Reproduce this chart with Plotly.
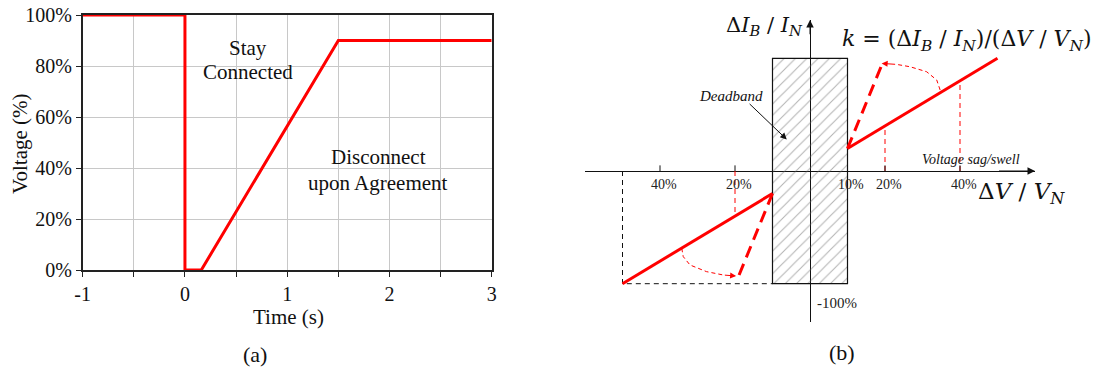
import plotly.graph_objects as go

# ---- (a) voltage ride-through profile ----
time_s = [-1, 0, 0, 0.16, 1.5, 3]
voltage_pct = [100, 100, 0, 0, 90, 90]
x_ticks = [-1, -0.5, 0, 0.5, 1, 1.5, 2, 2.5, 3]
x_ticktext = ["-1", "", "0", "", "1", "", "2", "", "3"]
y_ticks = [0, 20, 40, 60, 80, 100]
y_ticktext = ["0%", "20%", "40%", "60%", "80%", "100%"]

# ---- (b) reactive current support characteristic ----
deadband = [-10, 10]           # % of nominal voltage
band_height = [-100, 100]      # % of nominal current
swell_dv = [10, 50]
swell_di = [20, 100]
swell_steep_dv = [10, 19.5]
swell_steep_di = [20, 97]
sag_dv = [-50, -10]
sag_di = [-100, -20]
sag_steep_dv = [-10, -19.5]
sag_steep_di = [-20, -97]
swell_curve_dv = [34.7, 33.8, 31.1, 26.7, 23.1, 19.1]
swell_curve_di = [71.9, 80.7, 88.1, 92.5, 94.6, 95.5]
sag_curve_dv = [-34.2, -33.8, -32.0, -27.6, -23.1, -19.7]
sag_curve_di = [-68.6, -76.0, -83.4, -89.3, -92.3, -93.2]
guide_dv = [-20, 20, 40]
guide_di = [-40, 40, 80]
tick_dv = [-40, -20, 20, 40]
tick_label_dv = [-40, -20, 10, 20, 40]
tick_label_text = ["40%", "20%", "10%", "20%", "40%"]

RED = "#ff0000"
SERIF = "Liberation Serif"
MATH = "DejaVu Serif"

fig = go.Figure()

fig.add_trace(go.Scatter(x=time_s, y=voltage_pct, mode="lines",
                         line=dict(color=RED, width=3), xaxis="x", yaxis="y",
                         hoverinfo="skip", showlegend=False))

# hatched deadband block
fig.add_trace(go.Bar(x=[0], y=[band_height[1] - band_height[0]], base=[band_height[0]],
                     width=[deadband[1] - deadband[0]], xaxis="x2", yaxis="y2",
                     marker=dict(color="rgba(0,0,0,0)",
                                 line=dict(color="#111", width=1.2),
                                 pattern=dict(shape="/", fgcolor="#666",
                                              bgcolor="rgba(0,0,0,0)", size=8,
                                              solidity=0.13)),
                     hoverinfo="skip", showlegend=False))

def line2(xs, ys, color, width, dash="solid"):
    fig.add_trace(go.Scatter(x=xs, y=ys, mode="lines", xaxis="x2", yaxis="y2",
                             line=dict(color=color, width=width, dash=dash),
                             hoverinfo="skip", showlegend=False))

# black dashed projection of the sag end point
line2([sag_dv[0], sag_dv[0], deadband[0]], [0, sag_di[0], sag_di[0]], "#111", 1, "5px,4px")
# thin red guides from the axis to the characteristic
for gx, gy in zip(guide_dv, guide_di):
    line2([gx, gx], [0, gy], RED, 1, "5px,4px")
# small axis ticks
for tx in tick_dv:
    line2([tx, tx], [0, 5], "#111", 1)
# characteristics
line2(swell_dv, swell_di, RED, 3)
line2(sag_dv, sag_di, RED, 3)
line2(swell_steep_dv, swell_steep_di, RED, 3, "12px,7px")
line2(sag_steep_dv, sag_steep_di, RED, 3, "12px,7px")
line2(swell_curve_dv[:-1], swell_curve_di[:-1], RED, 1, "4px,3px")
line2(sag_curve_dv[:-1], sag_curve_di[:-1], RED, 1, "4px,3px")

annotations = []

def arrow2(x, y, ax, ay, color, width=1, size=1.0, head=2):
    annotations.append(dict(x=x, y=y, ax=ax, ay=ay, xref="x2", yref="y2",
                            axref="x2", ayref="y2", text="", showarrow=True,
                            arrowhead=head, arrowsize=size, arrowwidth=width,
                            arrowcolor=color))

arrow2(swell_curve_dv[-1], swell_curve_di[-1], swell_curve_dv[-2], swell_curve_di[-2], RED, 1, 1.2)
arrow2(sag_curve_dv[-1], sag_curve_di[-1], sag_curve_dv[-2], sag_curve_di[-2], RED, 1, 1.2)
# axis arrowheads
arrow2(60, 0, 50, 0, "#111", 1, 1.5)
arrow2(0, 134, 0, 120, "#111", 1, 1.5)
# Deadband pointer
arrow2(-6.2, 28, -16.5, 60.8, "#111", 1, 1.3)

def ptext(px, py, text, size, family=SERIF, angle=0, xanchor="center", color="#111"):
    annotations.append(dict(x=px / 1100, y=1 - py / 372, xref="paper", yref="paper",
                            text=text, showarrow=False, textangle=angle,
                            xanchor=xanchor, yanchor="middle",
                            font=dict(family=family, size=size, color=color)))

# (a) labels
ptext(248, 48, "Stay", 21)
ptext(248, 72, "Connected", 21)
ptext(378, 157, "Disconnect", 21)
ptext(378, 183, "upon Agreement", 21)
ptext(288, 317, "Time (s)", 21)
ptext(20, 144, "Voltage (%)", 21, angle=-90)
ptext(255, 354, "(a)", 22)
ptext(842, 352, "(b)", 22)

# (b) labels
ptext(731, 96, "<i>Deadband</i>", 15)
ptext(971, 159, "<i>Voltage sag/swell</i>", 14)
ptext(764, 26, "Δ<i>I</i><sub><i>B</i></sub> / <i>I</i><sub><i>N</i></sub>", 21, MATH)
ptext(967, 40, "<i>k</i> = (Δ<i>I</i><sub><i>B</i></sub> / <i>I</i><sub><i>N</i></sub>)/(Δ<i>V</i> / <i>V</i><sub><i>N</i></sub>)", 22, MATH)
ptext(1021, 193, "Δ<i>V</i> / <i>V</i><sub><i>N</i></sub>", 23, MATH)

for vx, vt in zip(tick_label_dv, tick_label_text):
    annotations.append(dict(x=vx, y=0, xref="x2", yref="y2", text=vt, showarrow=False,
                            xshift=3.5, yshift=-14,
                            font=dict(family=SERIF, size=14, color="#222")))
annotations.append(dict(x=0, y=band_height[0], xref="x2", yref="y2", text="-100%",
                        showarrow=False, xanchor="left", xshift=5, yshift=-19,
                        font=dict(family=SERIF, size=15, color="#222")))

axis_a = dict(showgrid=True, gridcolor="#c8c8c8", gridwidth=1, showline=True,
              linecolor="#222", linewidth=1.5, mirror=True, ticks="outside",
              ticklen=5, tickcolor="#222", zeroline=False, layer="below traces",
              automargin=False, tickfont=dict(family=SERIF, size=20, color="#111"))

fig.update_layout(
    width=1100, height=372, margin=dict(l=0, r=0, t=0, b=0),
    paper_bgcolor="white", plot_bgcolor="white", showlegend=False,
    xaxis=dict(axis_a, domain=[82.7 / 1100, 491.7 / 1100], range=[-1, 3],
               tickvals=x_ticks, ticktext=x_ticktext, anchor="y"),
    yaxis=dict(axis_a, domain=[1 - 270 / 372, 1 - 15 / 372], range=[0, 100],
               tickvals=y_ticks, ticktext=y_ticktext, anchor="x"),
    xaxis2=dict(domain=[585 / 1100, 1035 / 1100], range=[-60, 60], anchor="y2",
                showgrid=False, showticklabels=False, ticks="", showline=False,
                automargin=False, zeroline=True, zerolinecolor="#111", zerolinewidth=1),
    yaxis2=dict(domain=[1 - 322 / 372, 1 - 20 / 372], range=[-134, 134], anchor="x2",
                showgrid=False, showticklabels=False, ticks="", showline=False,
                automargin=False, zeroline=True, zerolinecolor="#111", zerolinewidth=1),
    annotations=annotations,
)

fig.write_html("out.html")
